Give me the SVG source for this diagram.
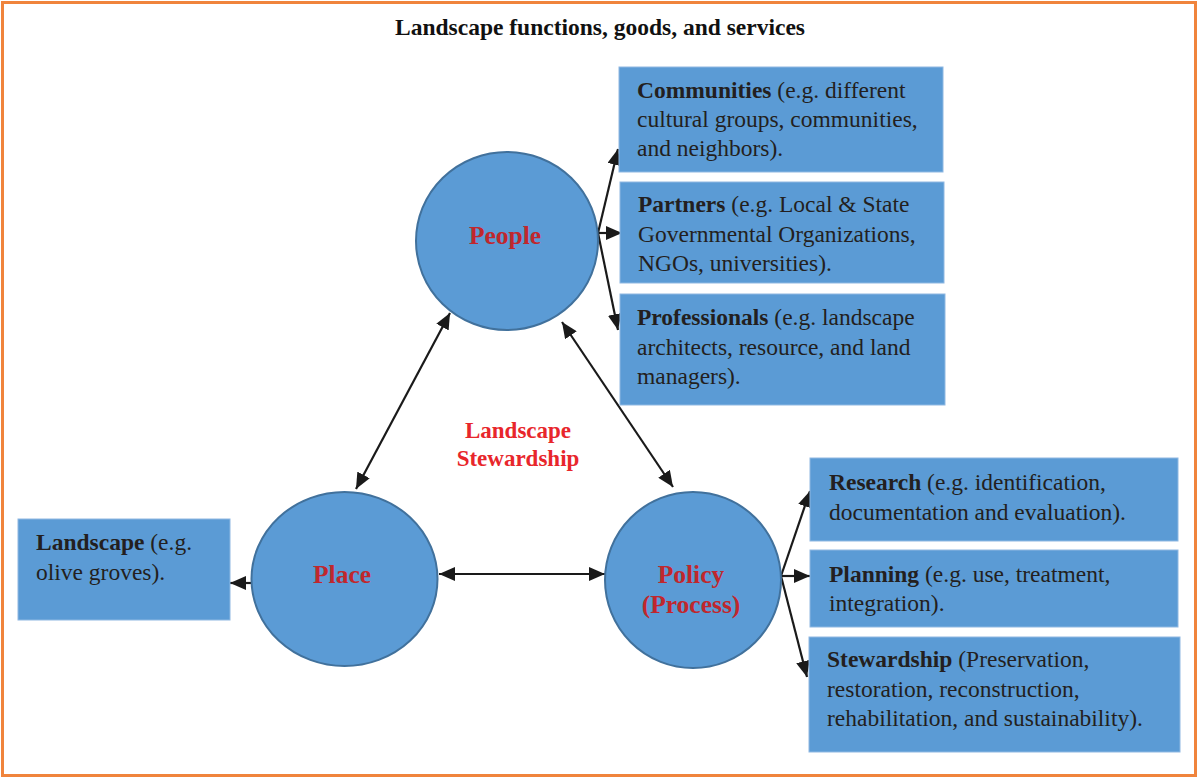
<svg xmlns="http://www.w3.org/2000/svg" width="1200" height="778" viewBox="0 0 1200 778">
<defs>
<marker id="ah" viewBox="0 0 16 14" refX="16" refY="7" markerWidth="16" markerHeight="14" markerUnits="userSpaceOnUse" orient="auto-start-reverse">
<path d="M0,0 L16,7 L0,14 Z" fill="#1a1a1a"/>
</marker>
</defs>
<style>
.box{fill:#5b9bd5;stroke:#8fb8e2;stroke-width:1}
.circ{fill:#5b9bd5;stroke:#41719c;stroke-width:2}
.t{font-family:"Liberation Serif","Times New Roman",serif;font-size:23.5px;fill:#231f20}
.b{font-weight:bold}
.ct{font-family:"Liberation Serif","Times New Roman",serif;font-size:25.5px;font-weight:bold;fill:#c0272d;text-anchor:middle}
.lk{font-family:"Liberation Serif","Times New Roman",serif;font-size:23px;font-weight:bold;fill:#e8262b;text-anchor:middle}
.c{fill:none;stroke:#1a1a1a;stroke-width:2.2}
</style>
<rect x="0" y="0" width="1200" height="778" fill="#ffffff"/>
<rect x="2.5" y="2.5" width="1193" height="773" fill="none" stroke="#f0843c" stroke-width="3"/>
<text x="600" y="35" font-family="'Liberation Serif','Times New Roman',serif" font-size="23.5" font-weight="bold" fill="#111" text-anchor="middle">Landscape functions, goods, and services</text>

<g id="connectors">
<line class="c" x1="450" y1="313" x2="356" y2="489" marker-start="url(#ah)" marker-end="url(#ah)"/>
<line class="c" x1="562" y1="322" x2="673" y2="487" marker-start="url(#ah)" marker-end="url(#ah)"/>
<line class="c" x1="439" y1="574" x2="605" y2="574" marker-start="url(#ah)" marker-end="url(#ah)"/>
<line class="c" x1="256" y1="583" x2="230" y2="583" marker-end="url(#ah)"/>
<line class="c" x1="598" y1="233" x2="618" y2="149" marker-end="url(#ah)"/>
<line class="c" x1="598" y1="233" x2="622" y2="233" marker-end="url(#ah)"/>
<line class="c" x1="598" y1="233" x2="618" y2="330" marker-end="url(#ah)"/>
<line class="c" x1="781" y1="576" x2="810" y2="491" marker-end="url(#ah)"/>
<line class="c" x1="781" y1="576" x2="810" y2="576" marker-end="url(#ah)"/>
<line class="c" x1="781" y1="576" x2="807" y2="677" marker-end="url(#ah)"/>
</g>

<g id="people">
<ellipse class="circ" cx="507" cy="241" rx="91" ry="89"/>
<text class="ct" x="505" y="244">People</text>
</g>
<g id="place">
<ellipse class="circ" cx="344.5" cy="579" rx="93" ry="87"/>
<text class="ct" x="342" y="583">Place</text>
</g>
<g id="policy">
<ellipse class="circ" cx="693" cy="580" rx="88" ry="88"/>
<text class="ct" x="691" y="583">Policy</text>
<text class="ct" x="691" y="613">(Process)</text>
</g>
<g id="center-label">
<text class="lk" x="518" y="438">Landscape</text>
<text class="lk" x="518" y="466">Stewardship</text>
</g>

<g id="communities">
<rect class="box" x="619" y="67" width="324" height="105"/>
<text class="t" x="637" y="98"><tspan class="b">Communities</tspan> (e.g. different</text>
<text class="t" x="637" y="127">cultural groups, communities,</text>
<text class="t" x="637" y="156">and neighbors).</text>
</g>
<g id="partners">
<rect class="box" x="620" y="182" width="324" height="101"/>
<text class="t" x="638" y="212"><tspan class="b">Partners</tspan> (e.g. Local &amp; State</text>
<text class="t" x="638" y="242">Governmental Organizations,</text>
<text class="t" x="638" y="271">NGOs, universities).</text>
</g>
<g id="professionals">
<rect class="box" x="620" y="294" width="325" height="111"/>
<text class="t" x="637" y="325"><tspan class="b">Professionals</tspan> (e.g. landscape</text>
<text class="t" x="637" y="355">architects, resource, and land</text>
<text class="t" x="637" y="384">managers).</text>
</g>
<g id="research">
<rect class="box" x="810" y="458" width="368" height="83"/>
<text class="t" x="829" y="490"><tspan class="b">Research</tspan> (e.g. identification,</text>
<text class="t" x="829" y="520">documentation and evaluation).</text>
</g>
<g id="planning">
<rect class="box" x="810" y="550" width="368" height="77"/>
<text class="t" x="829" y="582"><tspan class="b">Planning</tspan> (e.g. use, treatment,</text>
<text class="t" x="829" y="611">integration).</text>
</g>
<g id="stewardship">
<rect class="box" x="809" y="637" width="371" height="115"/>
<text class="t" x="827" y="667"><tspan class="b">Stewardship</tspan> (Preservation,</text>
<text class="t" x="827" y="697">restoration, reconstruction,</text>
<text class="t" x="827" y="726">rehabilitation, and sustainability).</text>
</g>
<g id="landscape">
<rect class="box" x="18" y="519" width="212" height="101"/>
<text class="t" x="36" y="550"><tspan class="b">Landscape</tspan> (e.g.</text>
<text class="t" x="36" y="580">olive groves).</text>
</g>
</svg>
